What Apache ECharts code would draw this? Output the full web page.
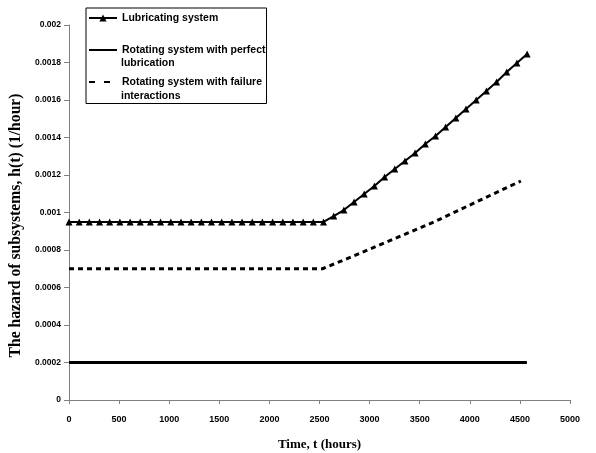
<!DOCTYPE html>
<html>
<head>
<meta charset="utf-8">
<script src="https://cdn.jsdelivr.net/npm/echarts@6/dist/echarts.min.js"></script>
<style>html,body{margin:0;padding:0;background:#fff;}#c{width:596px;height:453px;}</style>
</head>
<body>
<div id="c"></div>
<script>
// Series names
const seriesNames = ['Lubricating system', 'Rotating system with perfect lubrication', 'Rotating system with failure interactions'];
const legendFirstLines = ['Lubricating system', 'Rotating system with perfect', 'Rotating system with failure'];
const legendSecondLines = ['', 'lubrication', 'interactions'];

// Lubricating system (hours, hazard)
const lubTime = [0,102,203,305,406,508,610,711,813,914,1016,1118,1219,1321,1422,1524,1626,1727,1829,1930,2032,2134,2235,2337,2438,2540,2642,2743,2845,2946,3048,3150,3251,3353,3454,3556,3658,3759,3861,3962,4064,4166,4267,4369,4470,4572];
const lubHazard = [0.00095,0.00095,0.00095,0.00095,0.00095,0.00095,0.00095,0.00095,0.00095,0.00095,0.00095,0.00095,0.00095,0.00095,0.00095,0.00095,0.00095,0.00095,0.00095,0.00095,0.00095,0.00095,0.00095,0.00095,0.00095,0.00095,
  0.000981,0.001013,0.001056,0.001099,0.001141,0.001189,0.001232,0.001275,0.001317,0.001365,0.001408,0.001456,0.001504,0.001552,0.0016,0.001648,0.001696,0.001749,0.001797,0.001845];

// Rotating system with perfect lubrication
const perfTime = [0, 4570];
const perfHazard = [0.0002, 0.0002];

// Rotating system with failure interactions
const failTime = [0, 2530, 2840, 3240, 3640, 4080, 4510];
const failHazard = [0.0007, 0.0007, 0.000768, 0.000859, 0.000949, 0.00106, 0.001168];

// Axis ticks
const xTicks = [0, 500, 1000, 1500, 2000, 2500, 3000, 3500, 4000, 4500, 5000];
const yTickLabels = ['0', '0.0002', '0.0004', '0.0006', '0.0008', '0.001', '0.0012', '0.0014', '0.0016', '0.0018', '0.002'];

const zip = (a, b) => a.map((v, i) => [v, b[i]]);
const sans = 'Liberation Sans, Arial, sans-serif';
const serif = 'Liberation Serif, Times New Roman, serif';

const chart = echarts.init(document.getElementById('c'), null, {renderer: 'canvas'});
chart.setOption({
  animation: false,
  backgroundColor: '#fff',
  grid: {left: 69, right: 26, top: 25, bottom: 53, containLabel: false, outerBoundsMode: 'none'},
  xAxis: {
    type: 'value', min: xTicks[0], max: xTicks[xTicks.length - 1], interval: 500,
    name: 'Time, t (hours)', nameLocation: 'middle', nameGap: 38,
    nameTextStyle: {fontFamily: serif, fontWeight: 'bold', fontSize: 13, color: '#000'},
    axisLine: {lineStyle: {color: '#808080', width: 1}},
    axisTick: {show: true, length: 4, lineStyle: {color: '#808080'}},
    axisLabel: {fontFamily: sans, fontWeight: 'bold', fontSize: 9, color: '#000', margin: 15,
      formatter: (v) => String(v)},
    splitLine: {show: false}
  },
  yAxis: {
    type: 'value', min: 0, max: 0.002, interval: 0.0002,
    name: 'The hazard of subsystems, h(t) (1/hour)', nameLocation: 'middle', nameGap: 42,
    nameTextStyle: {fontFamily: serif, fontWeight: 'bold', fontSize: 15.7, color: '#000', padding: [0, 26, 0, 0]},
    axisLine: {show: true, lineStyle: {color: '#808080', width: 1}},
    axisTick: {show: true, length: 5, lineStyle: {color: '#808080'}},
    axisLabel: {fontFamily: sans, fontWeight: 'bold', fontSize: 8.5, color: '#000', margin: 8,
      formatter: (v) => yTickLabels[Math.round(v / 0.0002)]},
    splitLine: {show: false}
  },
  legend: {
    orient: 'vertical', left: 86, top: 8,
    padding: [4.5, 1, 16, 2], itemGap: 21, itemWidth: 28, itemHeight: 9,
    borderColor: '#000', borderWidth: 1, backgroundColor: '#fff',
    textStyle: {fontFamily: sans, fontWeight: 'bold', fontSize: 10.5, color: '#000'},
    formatter: (name) => legendFirstLines[seriesNames.indexOf(name)],
    data: [
      {name: seriesNames[0]},
      {name: seriesNames[1], itemStyle: {opacity: 0}},
      {name: seriesNames[2], itemStyle: {opacity: 0}, lineStyle: {type: [6, 9]}}
    ]
  },
  graphic: [
    {type: 'text', left: 121, top: 58, z: 100,
      style: {text: legendSecondLines[1], font: 'bold 10.5px ' + sans, fill: '#000'}},
    {type: 'text', left: 121, top: 91, z: 100,
      style: {text: legendSecondLines[2], font: 'bold 10.5px ' + sans, fill: '#000'}}
  ],
  series: [
    {
      name: seriesNames[0], type: 'line', data: zip(lubTime, lubHazard),
      symbol: 'triangle', symbolSize: 7, showAllSymbol: true,
      itemStyle: {color: '#000'}, lineStyle: {color: '#000', width: 2}, z: 3
    },
    {
      name: seriesNames[1], type: 'line', data: zip(perfTime, perfHazard),
      symbol: 'none', itemStyle: {color: '#000'}, lineStyle: {color: '#000', width: 3}
    },
    {
      name: seriesNames[2], type: 'line', data: zip(failTime, failHazard),
      symbol: 'none', itemStyle: {color: '#000'}, lineStyle: {color: '#000', width: 3, type: [5, 4]}
    }
  ]
});
</script>
</body>
</html>
